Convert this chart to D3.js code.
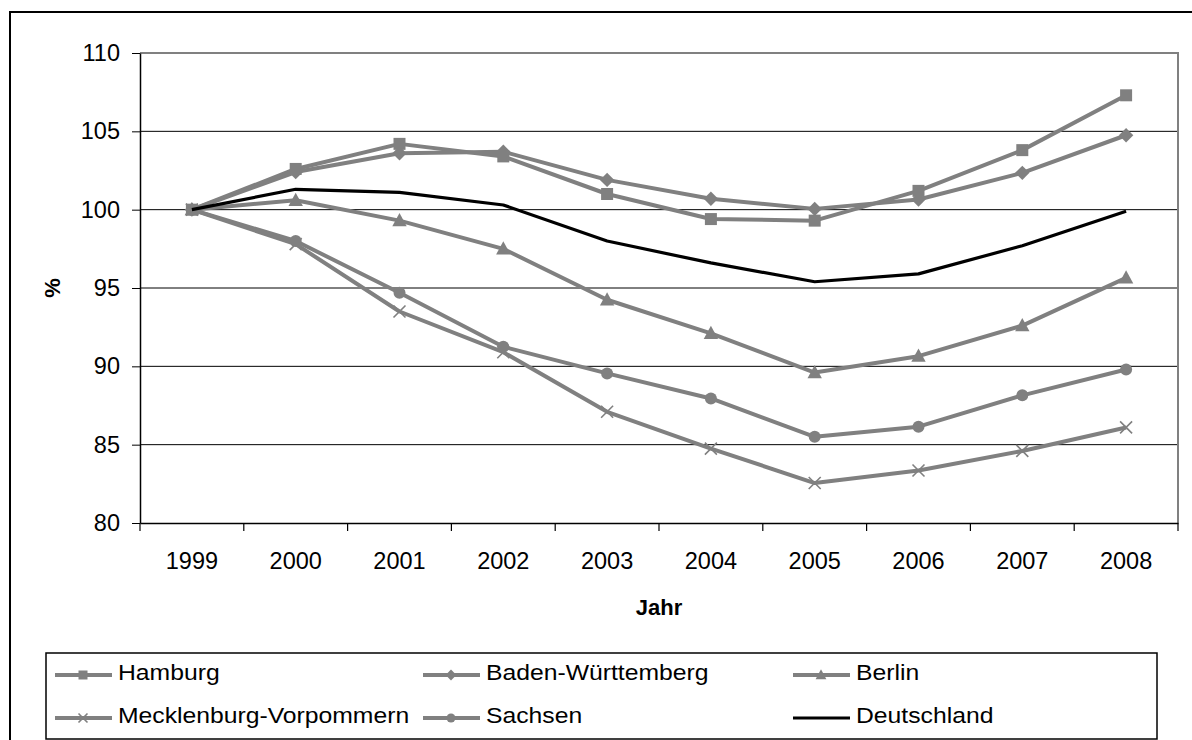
<!DOCTYPE html>
<html>
<head>
<meta charset="utf-8">
<script src="https://cdn.jsdelivr.net/npm/d3@7"></script>
<style>
  html, body { margin: 0; padding: 0; background: #fff; }
  svg { display: block; }
  text { font-family: "Liberation Sans", Arial, sans-serif; }
</style>
</head>
<body>
<svg id="chart" width="1192" height="740"></svg>
<script>
const years = ["1999","2000","2001","2002","2003","2004","2005","2006","2007","2008"];
const hamburg = [100, 102.6, 104.2, 103.4, 101.0, 99.4, 99.3, 101.2, 103.8, 107.3];
const badenWuerttemberg = [100, 102.4, 103.6, 103.7, 101.9, 100.7, 100.05, 100.65, 102.35, 104.75];
const berlin = [100, 100.6, 99.3, 97.5, 94.25, 92.1, 89.6, 90.65, 92.6, 95.65];
const mecklenburgVorpommern = [100, 97.8, 93.5, 90.9, 87.1, 84.75, 82.55, 83.35, 84.6, 86.1];
const sachsen = [100, 98.0, 94.7, 91.25, 89.55, 87.95, 85.5, 86.15, 88.15, 89.8];
const deutschland = [100, 101.3, 101.1, 100.3, 98.0, 96.6, 95.4, 95.9, 97.7, 99.9];
const yTicks = [80, 85, 90, 95, 100, 105, 110];

const seriesNames = ["Hamburg","Baden-Württemberg","Berlin","Mecklenburg-Vorpommern","Sachsen","Deutschland"];
const seriesValues = [hamburg, badenWuerttemberg, berlin, mecklenburgVorpommern, sachsen, deutschland];
const seriesMarkers = ["square","diamond","triangle","cross","circle","none"];

const svg = d3.select("#chart");
const grey = "#808080";
const fontFam = "'Liberation Sans', Arial, sans-serif";

// outer chart border
svg.append("rect").attr("x", 10).attr("y", 12).attr("width", 1200).attr("height", 760)
  .attr("fill", "#fff").attr("stroke", "#000").attr("stroke-width", 2);

const plot = {left: 140, top: 53, right: 1178, bottom: 523};
const x = d3.scaleBand().domain(years).range([plot.left, plot.right]).paddingInner(0).paddingOuter(0);
const y = d3.scaleLinear().domain([80, 110]).range([plot.bottom, plot.top]);

// gridlines
svg.append("g").selectAll("line").data(yTicks.filter(t => t > 80 && t < 110)).join("line")
  .attr("x1", plot.left).attr("x2", plot.right)
  .attr("y1", d => y(d)).attr("y2", d => y(d))
  .attr("stroke", "#000").attr("stroke-width", 1);

// plot area border (top/right grey)
svg.append("path")
  .attr("d", `M${plot.left},${y(110)}H${plot.right}V${plot.bottom}`)
  .attr("fill", "none").attr("stroke", grey).attr("stroke-width", 2);

// Y axis
const yAxis = d3.axisLeft(y).tickValues(yTicks).tickSize(8).tickPadding(12).tickSizeOuter(0);
const gy = svg.append("g").attr("transform", `translate(${plot.left},0)`).call(yAxis);
gy.select(".domain").attr("stroke", "#000").attr("stroke-width", 1.5);
gy.selectAll(".tick line").attr("stroke", "#000");
gy.selectAll(".tick text").attr("font-size", 23.5).attr("fill", "#000").style("font-family", fontFam);

// X axis
const xAxis = d3.axisBottom(x).tickSize(0).tickPadding(29).tickSizeOuter(0);
const gx = svg.append("g").attr("transform", `translate(0,${plot.bottom})`).call(xAxis);
gx.select(".domain").attr("stroke", "#000").attr("stroke-width", 1.5);
gx.selectAll(".tick text").attr("font-size", 23.5).attr("fill", "#000").style("font-family", fontFam);
// category boundary ticks
const bounds = years.map(d => x(d)).concat([x(years[years.length-1]) + x.bandwidth()]);
svg.append("g").selectAll("line").data(bounds).join("line")
  .attr("x1", d => d).attr("x2", d => d)
  .attr("y1", plot.bottom).attr("y2", plot.bottom + 8)
  .attr("stroke", "#000").attr("stroke-width", 1.2);

// axis titles
svg.append("text").attr("x", (plot.left + plot.right) / 2).attr("y", 615)
  .attr("text-anchor", "middle").attr("font-size", 22).attr("font-weight", "bold").text("Jahr");
svg.append("text").attr("transform", `translate(60,${(plot.top+plot.bottom)/2}) rotate(-90)`)
  .attr("text-anchor", "middle").attr("font-size", 22).attr("font-weight", "bold").text("%");

// markers
function drawMarker(g, type, cx, cy, s, color) {
  if (type === "square") {
    g.append("rect").attr("x", cx - s/2).attr("y", cy - s/2).attr("width", s).attr("height", s).attr("fill", color);
  } else if (type === "diamond") {
    const r = s * 0.6;
    g.append("path").attr("d", `M${cx},${cy-r}L${cx+r},${cy}L${cx},${cy+r}L${cx-r},${cy}Z`).attr("fill", color);
  } else if (type === "triangle") {
    const h = s * 1.05, w = s * 1.2;
    g.append("path").attr("d", `M${cx},${cy-h*0.6}L${cx+w/2},${cy+h*0.45}L${cx-w/2},${cy+h*0.45}Z`).attr("fill", color);
  } else if (type === "circle") {
    g.append("circle").attr("cx", cx).attr("cy", cy).attr("r", s/2).attr("fill", color);
  } else if (type === "cross") {
    const r = s/2;
    g.append("path").attr("d", `M${cx-r},${cy-r}L${cx+r},${cy+r}M${cx-r},${cy+r}L${cx+r},${cy-r}`)
      .attr("stroke", color).attr("stroke-width", 1.6).attr("fill", "none");
  }
}

const line = d3.line().x((d, i) => x(years[i]) + x.bandwidth()/2).y(d => y(d));

const seriesG = svg.append("g");
seriesValues.forEach((vals, si) => {
  const isDE = seriesMarkers[si] === "none";
  const color = isDE ? "#000" : grey;
  const g = seriesG.append("g");
  g.append("path").datum(vals).attr("d", line).attr("fill", "none")
    .attr("stroke", color).attr("stroke-width", isDE ? 3.2 : 4).attr("stroke-linejoin", "round");
  if (!isDE) {
    vals.forEach((v, i) => drawMarker(g, seriesMarkers[si], x(years[i]) + x.bandwidth()/2, y(v), 12, color));
  }
});

// legend
const legend = svg.append("g");
legend.append("rect").attr("x", 46).attr("y", 653).attr("width", 1111).attr("height", 86)
  .attr("fill", "#fff").attr("stroke", "#000").attr("stroke-width", 1.5);
const colX = [55, 423, 793];
const rowY = [675, 718];
seriesNames.forEach((name, i) => {
  const cx = colX[i % 3], cy = rowY[Math.floor(i / 3)];
  const isDE = seriesMarkers[i] === "none";
  const color = isDE ? "#000" : grey;
  legend.append("line").attr("x1", cx).attr("x2", cx + 57).attr("y1", cy).attr("y2", cy)
    .attr("stroke", color).attr("stroke-width", isDE ? 3.2 : 4);
  if (!isDE) drawMarker(legend, seriesMarkers[i], cx + 28, cy, 9, color);
  legend.append("text").attr("transform", `translate(${cx + 63},${cy + 5}) scale(1.15,1)`)
    .attr("font-size", 21.5).text(name);
});
</script>
</body>
</html>
